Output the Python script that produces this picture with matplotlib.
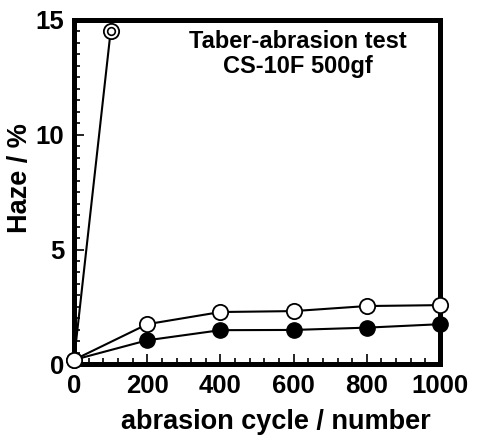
import numpy as np
import matplotlib.pyplot as plt
from matplotlib.ticker import MultipleLocator

plt.rcParams['font.family'] = ['Liberation Sans', 'DejaVu Sans']
plt.rcParams['font.weight'] = 'bold'

# haze vs abrasion cycles
cyc_fail = [0, 100]
haze_fail = [0.2, 14.5]
cyc = [0, 200, 400, 600, 800, 1000]
haze_open = [0.2, 1.75, 2.28, 2.32, 2.54, 2.58]
haze_fill = [0.2, 1.05, 1.49, 1.5, 1.6, 1.75]

fig = plt.figure(figsize=(4.84, 4.38), dpi=100)
ax = fig.add_axes([0.153, 0.168, 0.756, 0.787])

ax.plot(cyc_fail, haze_fail, 'k-', lw=1.5, zorder=2)
ax.plot(cyc_fail[1:], haze_fail[1:], 'o', ms=11, mfc='white', mec='k', mew=1.3, zorder=3)
ax.plot(cyc_fail[1:], haze_fail[1:], 'o', ms=5.5, mfc='white', mec='k', mew=1.2, zorder=4)
ax.plot(cyc, haze_fill, 'k-o', lw=1.5, ms=11, mfc='k', mec='k', zorder=3, clip_on=False)
ax.plot(cyc, haze_open, 'k-o', lw=1.5, ms=11, mfc='white', mec='k', mew=1.3, zorder=4, clip_on=False)

ax.set_xlim(0, 1000)
ax.set_ylim(0, 15)
ax.xaxis.set_major_locator(MultipleLocator(200))
ax.xaxis.set_minor_locator(MultipleLocator(40))
ax.yaxis.set_major_locator(MultipleLocator(5))
ax.yaxis.set_minor_locator(MultipleLocator(0.5))
ax.tick_params(which='both', direction='in', labelsize=18.5, width=1.2)
ax.tick_params(which='major', length=7, pad=7)
ax.tick_params(which='minor', length=4)
for s in ax.spines.values():
    s.set_linewidth(3.6)

ax.set_xlabel('abrasion cycle / number', fontsize=19.5, fontweight='bold')
ax.set_ylabel('Haze / %', fontsize=19.5, fontweight='bold')
ax.xaxis.set_label_coords(0.552, -0.128)
ax.yaxis.set_label_coords(-0.113, 0.54)
ax.text(0.612, 0.97, 'Taber-abrasion test\nCS-10F 500gf', transform=ax.transAxes,
        ha='center', va='top', fontsize=17, fontweight='bold', linespacing=1.1)

plt.savefig('out.png')
